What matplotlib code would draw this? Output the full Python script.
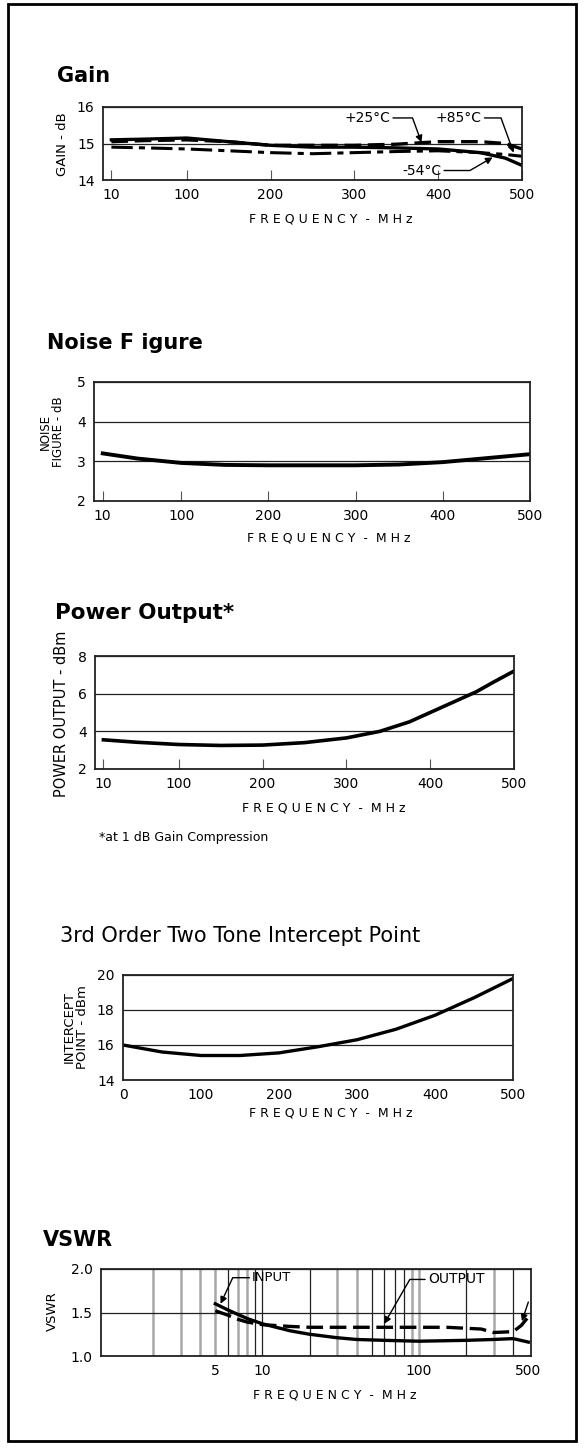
import matplotlib.pyplot as plt
import numpy as np
from matplotlib.patches import Rectangle
from matplotlib.ticker import FixedLocator, NullFormatter

W, H = 584, 1449

# Gain vs frequency
gain_freq = [10, 50, 100, 150, 200, 250, 300, 350, 400, 450, 480, 500]
gain_p25 = [15.05, 15.08, 15.1, 15.05, 14.95, 14.95, 14.95, 14.98, 15.05, 15.05, 15.0, 14.85]
gain_p85 = [15.1, 15.12, 15.15, 15.05, 14.95, 14.9, 14.9, 14.88, 14.85, 14.75, 14.6, 14.4]
gain_m54 = [14.9, 14.88, 14.85, 14.8, 14.75, 14.72, 14.75, 14.78, 14.8, 14.75, 14.7, 14.65]

# Noise figure
nf_freq = [10, 50, 100, 150, 200, 250, 300, 350, 400, 450, 500]
nf_db = [3.2, 3.07, 2.96, 2.91, 2.9, 2.9, 2.9, 2.92, 2.98, 3.08, 3.18]

# Power output at 1 dB compression
po_freq = [10, 50, 100, 150, 200, 250, 300, 340, 375, 400, 430, 455, 475, 500]
po_dbm = [3.55, 3.42, 3.3, 3.25, 3.27, 3.4, 3.65, 4.0, 4.5, 5.0, 5.6, 6.1, 6.6, 7.2]

# 3rd order intercept
ip_freq = [0, 50, 100, 150, 200, 250, 300, 350, 400, 450, 500]
ip_dbm = [16.0, 15.6, 15.4, 15.4, 15.55, 15.9, 16.3, 16.9, 17.7, 18.7, 19.8]

# VSWR
vin_freq = [5, 6, 8, 10, 15, 20, 30, 40, 60, 100, 200, 300, 400, 500]
vin = [1.6, 1.53, 1.43, 1.37, 1.29, 1.25, 1.21, 1.19, 1.18, 1.17, 1.18, 1.19, 1.2, 1.16]
vout_freq = [5, 6, 7, 8, 10, 15, 20, 60, 150, 250, 300, 400, 450, 500]
vout = [1.52, 1.47, 1.42, 1.39, 1.36, 1.34, 1.33, 1.33, 1.33, 1.31, 1.27, 1.28, 1.35, 1.45]

lin_ticks = [10, 100, 200, 300, 400, 500]
vswr_ticks = [5, 10, 100, 500]
vswr_grid_dark = [6, 9, 10, 20, 50, 60, 70, 80, 200, 400]
vswr_grid_light = [2, 3, 4, 5, 7, 8, 30, 40, 90, 100, 300]

fig = plt.figure(figsize=(W / 100, H / 100), dpi=100)
fig.add_artist(Rectangle((8 / W, 1 - 1441 / H), 568 / W, 1437 / H, transform=fig.transFigure,
                         fill=False, lw=2, ec='black'))


def make_ax(l, t, r, b):
    ax = fig.add_axes([l / W, 1 - b / H, (r - l) / W, (b - t) / H])
    for s in ax.spines.values():
        s.set_linewidth(1.3)
        s.set_color('#222222')
    ax.tick_params(labelsize=10, pad=6)
    return ax


def ftext(x, y, s, **kw):
    fig.text(x / W, 1 - y / H, s, **kw)


def lin_axes(ax, ticks, grid_x, yticks):
    ax.set_xlim(0, 500)
    ax.set_xticks(ticks)
    ax.xaxis.set_minor_locator(FixedLocator(grid_x))
    ax.tick_params(axis='x', which='major', direction='in', length=7, width=0.8, color='#555555')
    ax.tick_params(axis='x', which='minor', length=0)
    ax.tick_params(axis='y', length=0)
    ax.set_yticks(yticks)
    ax.set_ylim(yticks[0], yticks[-1])
    ax.grid(axis='x', which='minor', color='#222222', lw=0.9)
    ax.grid(axis='y', which='major', color='#222222', lw=0.9)
    ax.set_axisbelow(True)


xlab = 'F R E Q U E N C Y  -  M H z'
arr = dict(arrowstyle='-|>', color='black', lw=1, mutation_scale=10, shrinkA=0, shrinkB=0)

# ---- Gain
ax = make_ax(103, 107, 522, 180)
lin_axes(ax, lin_ticks, [100, 200, 300, 400], [14, 15, 16])
ax.plot(gain_freq, gain_p25, 'k--', lw=2.4, dashes=(5, 2))
ax.plot(gain_freq, gain_p85, 'k-', lw=2.4)
ax.plot(gain_freq, gain_m54, 'k-.', lw=2.2, dashes=(7, 2, 2, 2))
ax.annotate('+25°C', xy=(380, 15.03), xytext=(288, 15.7), fontsize=10, va='center',
            arrowprops=dict(arr, connectionstyle='angle,angleA=0,angleB=110,rad=0'))
ax.annotate('+85°C', xy=(490, 14.75), xytext=(397, 15.7), fontsize=10, va='center',
            arrowprops=dict(arr, connectionstyle='angle,angleA=0,angleB=110,rad=0'))
ax.annotate('-54°C', xy=(465, 14.62), xytext=(357, 14.26), fontsize=10, va='center',
            arrowprops=dict(arr, connectionstyle='angle,angleA=0,angleB=30,rad=0'))
ftext(57, 76, 'Gain', fontsize=15, fontweight='bold', va='center')
ftext(62, 144, 'GAIN - dB', fontsize=9.5, rotation=90, ha='center', va='center')
ftext(331, 219, xlab, fontsize=9, ha='center', va='center')

# ---- Noise figure
ax = make_ax(94, 382, 530, 501)
lin_axes(ax, lin_ticks, [100, 200, 300, 400], [2, 3, 4, 5])
ax.plot(nf_freq, nf_db, 'k-', lw=2.8)
ftext(47, 343, 'Noise F igure', fontsize=15, fontweight='bold', va='center')
ftext(52, 432, 'NOISE\nFIGURE - dB', fontsize=8.5, rotation=90, ha='center', va='center',
      linespacing=1.05)
ftext(329, 538, xlab, fontsize=9, ha='center', va='center')

# ---- Power output
ax = make_ax(95, 656, 514, 769)
lin_axes(ax, lin_ticks, [100, 200, 300, 400], [2, 4, 6, 8])
ax.plot(po_freq, po_dbm, 'k-', lw=2.6)
ftext(55, 613, 'Power Output*', fontsize=15.5, fontweight='bold', va='center')
ftext(61, 714, 'POWER OUTPUT - dBm', fontsize=10.5, rotation=90, ha='center', va='center')
ftext(324, 808, xlab, fontsize=9, ha='center', va='center')
ftext(99, 837, '*at 1 dB Gain Compression', fontsize=9, va='center')

# ---- Intercept point
ax = make_ax(123, 975, 513, 1080)
lin_axes(ax, [0, 100, 200, 300, 400, 500], [100, 200, 300, 400], [14, 16, 18, 20])
ax.tick_params(axis='x', which='major', length=0)
ax.plot(ip_freq, ip_dbm, 'k-', lw=2.4)
ftext(60, 936, '3rd Order Two Tone Intercept Point', fontsize=15, va='center')
ftext(76, 1027, 'INTERCEPT\nPOINT - dBm', fontsize=9.5, rotation=90, ha='center', va='center',
      linespacing=1.05)
ftext(331, 1113, xlab, fontsize=9, ha='center', va='center')

# ---- VSWR
ax = make_ax(101, 1269, 531, 1356)
ax.set_xscale('log')
ax.set_xlim(0.93, 520)
ax.set_ylim(1.0, 2.0)
ax.set_xticks(vswr_ticks)
ax.set_xticklabels([str(t) for t in vswr_ticks])
ax.xaxis.set_minor_locator(FixedLocator([]))
ax.xaxis.set_minor_formatter(NullFormatter())
ax.set_yticks([1.0, 1.5, 2.0])
ax.set_yticklabels(['1.0', '1.5', '2.0'])
ax.tick_params(which='both', length=0)
ax.grid(axis='y', which='major', color='#222222', lw=0.9)
for f in vswr_grid_light:
    ax.axvline(f, color='#a8a8a8', lw=1.8, zorder=0.5)
for f in vswr_grid_dark:
    ax.axvline(f, color='#222222', lw=0.9, zorder=0.6)
ax.plot(vin_freq, vin, 'k-', lw=2.4)
ax.plot(vout_freq, vout, 'k--', lw=2.4, dashes=(5, 2))
ax.annotate('INPUT', xy=(5.4, 1.6), xytext=(8.6, 1.9), fontsize=9.5, va='center',
            arrowprops=dict(arr, connectionstyle='angle,angleA=0,angleB=65,rad=0'))
ax.annotate('OUTPUT', xy=(60, 1.37), xytext=(114, 1.88), fontsize=10, va='center',
            arrowprops=dict(arr, connectionstyle='angle,angleA=0,angleB=60,rad=0'))
ax.annotate('', xy=(455, 1.4), xytext=(500, 1.62), arrowprops=arr)
ftext(43, 1240, 'VSWR', fontsize=15, fontweight='bold', va='center')
ftext(52, 1311, 'VSWR', fontsize=9.5, rotation=90, ha='center', va='center')
ftext(335, 1395, xlab, fontsize=9, ha='center', va='center')

fig.savefig('out.png', dpi=100)
